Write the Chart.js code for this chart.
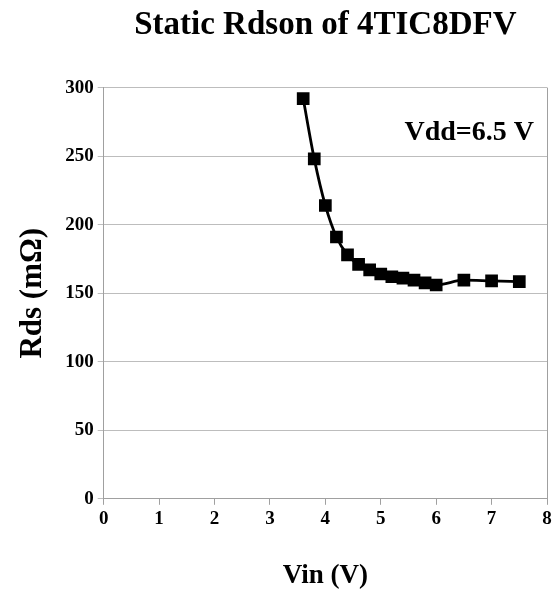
<!DOCTYPE html>
<html>
<head>
<meta charset="utf-8">
<script src="https://cdn.jsdelivr.net/npm/chart.js@4.4.1/dist/chart.umd.min.js"></script>
<style>
  html,body{margin:0;padding:0;background:#fff;}
  #wrap{width:559px;height:593px;}
</style>
</head>
<body>
<div id="wrap"><canvas id="c"></canvas></div>
<script>
const vin = [3.6, 3.8, 4.0, 4.2, 4.4, 4.6, 4.8, 5.0, 5.2, 5.4, 5.6, 5.8, 6.0, 6.5, 7.0, 7.5];
const rds = [292, 248, 214, 191, 178, 171, 167, 164, 162, 161, 159.5, 157.5, 156, 159.5, 159, 158.5];
const xTicks = [0, 1, 2, 3, 4, 5, 6, 7, 8];
const yTicks = [0, 50, 100, 150, 200, 250, 300];
const chartTitle = 'Static Rdson of 4TIC8DFV';
const xTitle = 'Vin (V)';
const yTitle = 'Rds (m\u03A9)';
const note = 'Vdd=6.5 V';

const serif = '"Liberation Serif", "Times New Roman", serif';

// draws the right frame line and the Vdd note
const extras = {
  id: 'extras',
  afterDraw(chart){
    const {ctx, chartArea:a, scales} = chart;
    ctx.save();
    ctx.strokeStyle = '#a0a0a0'; ctx.lineWidth = 1;
    ctx.beginPath(); ctx.moveTo(a.right + 0.5, a.top); ctx.lineTo(a.right + 0.5, a.bottom); ctx.stroke();
    ctx.fillStyle = '#000';
    ctx.font = 'bold 28px ' + serif;
    ctx.textAlign = 'right'; ctx.textBaseline = 'middle';
    ctx.fillText(note, a.right - 13, scales.y.getPixelForValue(267));
    ctx.restore();
  }
};

new Chart(document.getElementById('c'), {
  type: 'line',
  data: { datasets: [{
    data: vin.map((x, i) => ({x, y: rds[i]})),
    borderColor: '#000', backgroundColor: '#000', borderWidth: 2.8,
    pointStyle: 'rect', pointRadius: 7, pointHoverRadius: 7,
    tension: 0.3, cubicInterpolationMode: 'monotone'
  }]},
  options: {
    responsive: true, maintainAspectRatio: false, animation: false,
    layout: { padding: { top: 0, right: 12, left: 14, bottom: 1 } },
    plugins: {
      legend: { display: false }, tooltip: { enabled: false },
      title: { display: true, fullSize: false, text: chartTitle, color: '#000',
        font: { family: serif, size: 33, weight: 'bold' }, padding: { top: 6, bottom: 42 } }
    },
    scales: {
      x: { type: 'linear', min: 0, max: 8,
        afterBuildTicks: s => { s.ticks = xTicks.map(v => ({value: v})); },
        grid: { drawOnChartArea: false, color: '#a0a0a0', tickLength: 6 },
        border: { color: '#a0a0a0' },
        ticks: { color: '#000', font: { family: serif, size: 19, weight: 'bold' }, padding: 3 },
        title: { display: true, text: xTitle, color: '#000',
          font: { family: serif, size: 27, weight: 'bold' }, padding: { top: 26, bottom: 0 } } },
      y: { min: 0, max: 300,
        afterBuildTicks: s => { s.ticks = yTicks.map(v => ({value: v})); },
        grid: { color: '#bdbdbd', tickLength: 6 },
        border: { color: '#a0a0a0' },
        ticks: { color: '#000', font: { family: serif, size: 19, weight: 'bold' }, padding: 4 },
        title: { display: true, text: yTitle, color: '#000',
          font: { family: serif, size: 31, weight: 'bold' }, padding: { top: 0, bottom: 10 } } }
    }
  },
  plugins: [extras]
});
</script>
</body>
</html>
